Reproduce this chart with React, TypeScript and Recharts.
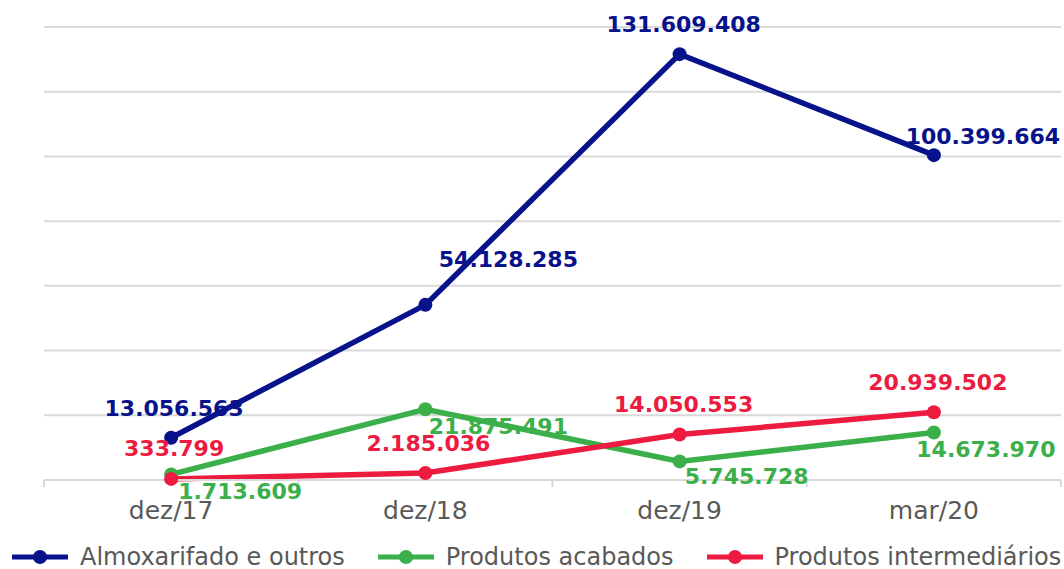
import { LineChart, Line, XAxis, YAxis, CartesianGrid, Legend, LabelList } from 'recharts'

const categorias = ['dez/17', 'dez/18', 'dez/19', 'mar/20']
const almoxarifado = [13056563, 54128285, 131609408, 100399664]
const acabados = [1713609, 21875491, 5745728, 14673970]
const intermediarios = [333799, 2185036, 14050553, 20939502]
const yTicks = [0, 20000000, 40000000, 60000000, 80000000, 100000000, 120000000, 140000000]

const data = categorias.map((c, i) => ({
  periodo: c,
  almox: almoxarifado[i],
  acabados: acabados[i],
  inter: intermediarios[i],
}))

const FONT = '"DejaVu Sans", Verdana, sans-serif'
const AZUL = '#08128a'
const VERDE = '#3aaf4a'
const VERMELHO = '#ec1b3f'
const CINZA = '#595959'
const W = 1064
const H = 569
const LEFT = 44
const RIGHT = 3
const HALF_BAND = (W - LEFT - RIGHT) / categorias.length / 2

// label offsets (center of text relative to the point), per series
const offAlmox = [[3, -30], [83, -46], [4, -30], [49, -19]]
const offAcab = [[69, 17], [73, 17], [67, 15], [52, 16]]
const offInter = [[3, -31], [3, -30], [4, -31], [4, -30]]

function fmt(v: number) {
  return String(Math.round(v)).replace(/\B(?=(\d{3})+(?!\d))/g, '.')
}

function makeLabel(color: string, offs: number[][]) {
  return (props: any) => {
    const { x, y, value, index } = props
    const [dx, dy] = offs[index] || [0, -20]
    return (
      <text
        x={x + dx}
        y={y + dy + 8}
        textAnchor="middle"
        fill={color}
        fontFamily={FONT}
        fontWeight="bold"
        fontSize={22}
      >
        {fmt(Number(value))}
      </text>
    )
  }
}

function Tick(props: any) {
  const { x, y, payload, index } = props
  const axisY = y - 8
  return (
    <g>
      <line x1={x - HALF_BAND} y1={axisY} x2={x - HALF_BAND} y2={axisY + 7} stroke="#d9d9d9" strokeWidth={2} />
      {index === categorias.length - 1 && (
        <line x1={x + HALF_BAND} y1={axisY} x2={x + HALF_BAND} y2={axisY + 7} stroke="#d9d9d9" strokeWidth={2} />
      )}
      <text x={x} y={axisY + 39} textAnchor="middle" fill={CINZA} fontFamily={FONT} fontSize={25}>
        {payload.value}
      </text>
    </g>
  )
}

const legendItems = [
  { nome: 'Almoxarifado e outros', cor: AZUL },
  { nome: 'Produtos acabados', cor: VERDE },
  { nome: 'Produtos intermediários', cor: VERMELHO },
]

function LegendaCustom() {
  return (
    <div style={{ display: 'flex', alignItems: 'center', height: 24, paddingLeft: 12 }}>
      {legendItems.map((it) => (
        <div key={it.nome} style={{ display: 'flex', alignItems: 'center', marginRight: 33 }}>
          <svg width={56} height={16} style={{ marginRight: 12 }}>
            <line x1={0} y1={8} x2={56} y2={8} stroke={it.cor} strokeWidth={5} />
            <circle cx={28} cy={8} r={7} fill={it.cor} />
          </svg>
          <span style={{ fontFamily: FONT, fontSize: 24, color: CINZA, whiteSpace: 'nowrap' }}>{it.nome}</span>
        </div>
      ))}
    </div>
  )
}

export default function App() {
  return (
    <div style={{ position: 'absolute', left: 0, top: 0, width: W, height: H, background: '#fff' }}>
      <LineChart width={W} height={H} data={data} margin={{ top: 27, right: RIGHT, left: LEFT, bottom: 0 }}>
        <CartesianGrid vertical={false} stroke="#d9d9d9" strokeWidth={2} />
        <XAxis
          dataKey="periodo"
          padding={{ left: HALF_BAND, right: HALF_BAND }}
          axisLine={{ stroke: '#d9d9d9', strokeWidth: 2 }}
          tickLine={false}
          tick={<Tick />}
          interval={0}
          height={65}
        />
        <YAxis hide domain={[0, 140000000]} ticks={yTicks} />
        <Legend
          verticalAlign="bottom"
          align="left"
          content={<LegendaCustom />}
          wrapperStyle={{ left: 0, width: W }}
        />
        <Line
          dataKey="almox"
          name="Almoxarifado e outros"
          stroke={AZUL}
          strokeWidth={5.5}
          dot={{ r: 7, fill: AZUL, stroke: AZUL, strokeWidth: 0 }}
          isAnimationActive={false}
        >
          <LabelList dataKey="almox" content={makeLabel(AZUL, offAlmox)} />
        </Line>
        <Line
          dataKey="acabados"
          name="Produtos acabados"
          stroke={VERDE}
          strokeWidth={5.5}
          dot={{ r: 7, fill: VERDE, stroke: VERDE, strokeWidth: 0 }}
          isAnimationActive={false}
        >
          <LabelList dataKey="acabados" content={makeLabel(VERDE, offAcab)} />
        </Line>
        <Line
          dataKey="inter"
          name="Produtos intermediários"
          stroke={VERMELHO}
          strokeWidth={5.5}
          dot={{ r: 7, fill: VERMELHO, stroke: VERMELHO, strokeWidth: 0 }}
          isAnimationActive={false}
        >
          <LabelList dataKey="inter" content={makeLabel(VERMELHO, offInter)} />
        </Line>
      </LineChart>
    </div>
  )
}
